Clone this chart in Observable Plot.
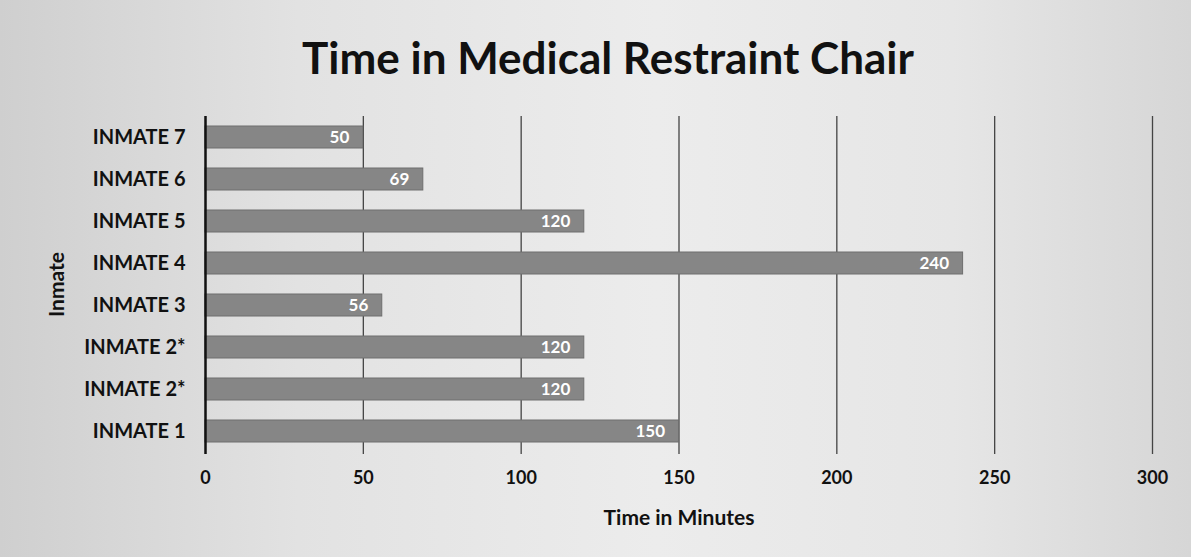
<!DOCTYPE html>
<html>
<head>
<meta charset="utf-8">
<script src="https://cdn.jsdelivr.net/npm/d3@7"></script>
<script src="https://cdn.jsdelivr.net/npm/@observablehq/plot@0.6"></script>
<style>
  html, body { margin: 0; padding: 0; }
  body {
    width: 1191px; height: 557px; overflow: hidden;
    background: linear-gradient(90deg, #cfcfcf 0%, #e2e2e2 25%, #ececec 55%, #e6e6e6 80%, #d6d6d6 100%);
    font-family: Lato, "Open Sans", sans-serif;
  }
  #title {
    height: 100px; line-height: 114px; text-align: center;
    font-size: 44px; font-weight: bold; color: #111; padding-left: 25px;
    box-sizing: border-box;
  }
  svg { display: block; background: transparent !important; }
</style>
</head>
<body>
<div id="title">Time in Medical Restraint Chair</div>
<div id="chart"></div>
<script>
// Data, top to bottom as in the chart
const inmates = ["INMATE 7", "INMATE 6", "INMATE 5", "INMATE 4", "INMATE 3", "INMATE 2*", "INMATE 2*", "INMATE 1"];
const minutes = [50, 69, 120, 240, 56, 120, 120, 150];
const xTicks = [0, 50, 100, 150, 200, 250, 300];

const keys = inmates.map((d, i) => i + ":" + d);
const data = keys.map((k, i) => ({key: k, label: inmates[i], value: minutes[i]}));

const chart = Plot.plot({
  width: 1191,
  height: 457,
  marginLeft: 205,
  marginRight: 39,
  marginTop: 16,
  marginBottom: 105,
  style: {background: "transparent", fontFamily: "Lato, 'Open Sans', sans-serif", color: "#111"},
  x: {domain: [0, 300], ticks: xTicks, label: null},
  y: {domain: keys, paddingInner: 0.47, paddingOuter: 0.235, label: null},
  marks: [
    Plot.ruleX(xTicks.filter(d => d > 0), {stroke: "#444", strokeWidth: 1.3, insetBottom: -2}),
    Plot.barX(data, {x: "value", y: "key", fill: "#868686", stroke: "#6e6e6e", strokeWidth: 1}),
    Plot.text(data, {x: "value", y: "key", text: d => String(d.value), textAnchor: "end", dx: -14, fill: "white", fontSize: 17, fontWeight: "bold"}),
    Plot.ruleX([0], {stroke: "#111", strokeWidth: 2.5, insetBottom: -2}),
    Plot.axisX({ticks: xTicks, tickSize: 0, tickPadding: 19, fontSize: 18, fontWeight: "bold", label: "Time in Minutes", labelAnchor: "center", labelArrow: "none", labelOffset: 72}),
    Plot.axisY({tickSize: 0, tickPadding: 20, tickFormat: k => k.split(":")[1], fontSize: 20, fontWeight: "bold", label: "Inmate", labelAnchor: "center", labelArrow: "none", labelOffset: 156})
  ]
});
document.getElementById("chart").appendChild(chart);
chart.querySelectorAll("[aria-label='x-axis label'] text, [aria-label='y-axis label'] text").forEach(t => {
  t.setAttribute("font-size", "21");
  t.setAttribute("font-weight", "bold");
  t.style.fontSize = "21px";
  t.style.fontWeight = "bold";
});
</script>
</body>
</html>
